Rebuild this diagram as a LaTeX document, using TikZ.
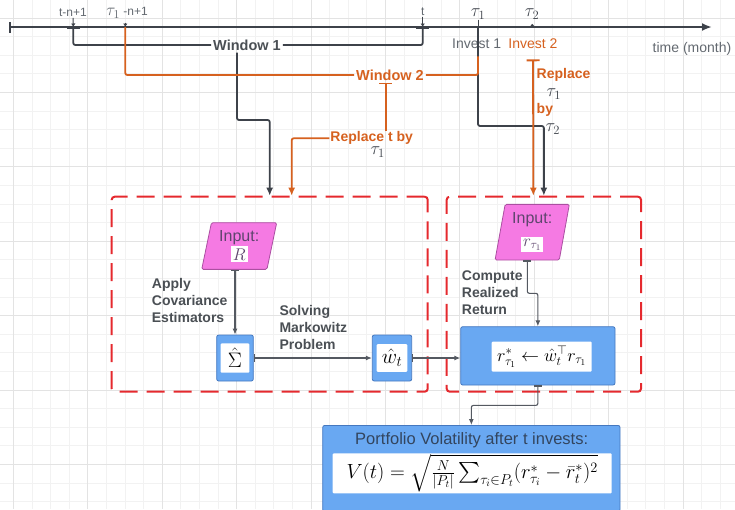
\RequirePackage{fix-cm}
\documentclass[tikz,border=0pt]{standalone}
\usepackage[no-math]{fontspec}
\setmainfont{Liberation Sans}
\usepackage{amsmath}
\usepackage{tikz}
\usetikzlibrary{positioning,arrows.meta,shapes.geometric}
\definecolor{lineclr}{rgb}{0.24, 0.26, 0.29}
\definecolor{flowclr}{rgb}{0.33, 0.35, 0.38}
\definecolor{orgclr}{rgb}{0.84, 0.38, 0.12}
\definecolor{dashclr}{rgb}{0.90, 0.16, 0.18}
\definecolor{cellclr}{rgb}{0.41, 0.66, 0.95}
\definecolor{celledge}{rgb}{0.27, 0.47, 0.75}
\definecolor{pinkclr}{rgb}{0.96, 0.48, 0.89}
\definecolor{pinkedge}{rgb}{0.67, 0.31, 0.63}
\definecolor{txtclr}{rgb}{0.29, 0.31, 0.33}
\definecolor{invclr}{rgb}{0.39, 0.41, 0.44}
\definecolor{inputtxt}{rgb}{0.37, 0.27, 0.43}
\definecolor{titleclr}{rgb}{0.20, 0.27, 0.37}
\definecolor{gridlo}{rgb}{0.95, 0.95, 0.95}
\definecolor{gridhi}{rgb}{0.89, 0.89, 0.89}
\newcommand{\wbox}[1]{{\setlength{\fboxsep}{2pt}\colorbox{white}{#1}}}
\tikzset{ %
  ,>={Latex[length=6pt,width=5pt]}
  ,gridminor/.style={draw=gridlo, line width=0.7pt}
  ,gridmajor/.style={draw=gridhi, line width=0.7pt}
  ,timeaxis/.style={draw=lineclr, line width=2.2pt, {Bar[width=11pt]}-{Latex[length=10pt,width=8pt]}}
  ,ticklbl/.style={text=invclr, inner sep=1pt, font=\fontsize{12}{14}\selectfont}
  ,taulbl/.style={text=lineclr, inner sep=1pt, font=\fontsize{18}{20}\selectfont}
  ,tickarr/.style={draw=lineclr, line width=1pt, -{Latex[length=3.5pt,width=4.5pt]}}
  ,wline/.style={draw=lineclr, line width=1.8pt, rounded corners=2pt, >={Latex[length=8pt,width=7pt]}}
  ,oline/.style={draw=orgclr, line width=1.8pt, rounded corners=2pt, >={Latex[length=8pt,width=7pt]}}
  ,winlbl/.style={text=txtclr, inner sep=2pt, font=\fontsize{14.5}{17}\selectfont\bfseries}
  ,invlbl/.style={text=invclr, inner sep=2pt, font=\fontsize{14}{17}\selectfont}
  ,olbl/.style={text=orgclr, inner sep=1pt, font=\fontsize{14}{17.5}\selectfont\bfseries}
  ,region/.style={draw=dashclr, line width=2pt, dash pattern=on 18pt off 9pt, rounded corners=3pt, inner sep=0}
  ,inp/.style={trapezium, trapezium left angle=74, trapezium right angle=106, trapezium stretches body,
     draw=pinkedge, fill=pinkclr, line width=0.8pt, rounded corners=1.5pt, minimum width=75, minimum height=46.7,
     inner sep=1pt, align=center, text=inputtxt, font=\fontsize{16}{18}\selectfont}
  ,cell/.style={draw=celledge, fill=cellclr, line width=0.8pt, rounded corners=2pt, inner sep=0}
  ,whitecell/.style={fill=white, rounded corners=1pt, inner sep=0, text=black}
  ,note/.style={text=txtclr, align=left, inner sep=0, font=\fontsize{14}{17}\selectfont\bfseries}
  ,flow/.style={draw=flowclr, line width=1.1pt, rounded corners=2pt}
}
\begin{document}
\begin{tikzpicture}[x=1pt,y=-1pt]
  \useasboundingbox (0,0) rectangle (735,509);
  \foreach \i in {0,...,40} {\draw[gridminor] ({-5.3+18.6*\i},0) -- ++(0,509);}
  \foreach \i in {0,...,28} {\draw[gridminor] (0,{-0.7+18.6*\i}) -- ++(735,0);}
  \foreach \i in {0,...,9} {\draw[gridmajor] ({13.3+74.4*\i},0) -- ++(0,509);}
  \foreach \i in {0,...,6} {\draw[gridmajor] (0,{17.9+74.4*\i}) -- ++(735,0);}

  % time line
  \coordinate (t0) at (9,27);
  \coordinate (tend) at (712,27);
  \coordinate (tA) at (73.3,27);
  \coordinate (tB) at (125.3,27);
  \coordinate (tT) at (422.7,27);
  \coordinate (tU) at (478,27);
  \coordinate (tV) at (532.3,27);
  \draw[timeaxis] (t0) -- (tend);
  \node[ticklbl] (lA) at (73,12.5) {t-n+1};
  \node[ticklbl] (lB) at (127,13) {{\fontsize{17}{17}\selectfont$\tau_1$} -n+1};
  \node[ticklbl] (lT) at (422.7,11.5) {t};
  \node[taulbl] (lU) at (478,14) {$\tau_1$};
  \node[taulbl] (lV) at (532,14) {$\tau_2$};
  \draw[tickarr] (lA) -- (tA);
  \draw[tickarr] ([yshift=-3pt]lB.south -| tB) -- (tB);
  \draw[tickarr] (lT) -- (tT);
  \draw[draw=lineclr, line width=1pt] (lU) -- (tU);
  \fill[lineclr] ([yshift=1.5pt]tV) circle (1.6);

  \node[invlbl] (i1) at (476.7,43.3) {Invest 1};
  \node[invlbl, text=orgclr] (i2) at (533,43.3) {Invest 2};
  \node[invlbl] (tm) at (692,49) {time (month)};

  % the two dashed stages
  \node[region, minimum width=316, minimum height=195] (box1) at (269.7,294.2) {};
  \node[region, minimum width=194.3, minimum height=195] (box2) at (543.85,294.2) {};

  % windows
  \node[winlbl] (w1) at (247,45) {Window 1};
  \node[winlbl, text=orgclr] (w2) at (390,75) {Window 2};
  \coordinate (j1) at (237,120);
  \coordinate (j2) at (478,126);
  \draw[wline, {Bar[width=13pt]}-] (tA) |- (w1);
  \draw[wline, {Bar[width=13pt]}-] (tT) |- (w1);
  \draw[wline, ->] (w1.south -| j1) -- (j1) -| (box1);
  \draw[wline, ->] (tU) -- (j2) -| (box2);
  \draw[oline] (tB) |- (w2);
  \draw[oline] (w2) -| ([yshift=-6pt]j2 |- i1.south);

  % replacements
  \node[olbl] (r1) at (371.7,138.3) {Replace t by};
  \node[taulbl, below=0pt of r1, xshift=6pt] (r1t) {$\tau_1$};
  \node[olbl, align=left, anchor=west] (r2) at (535.5,101.5)
    {Replace\\\hspace*{10pt}{\color{lineclr}\mdseries\fontsize{18}{17.5}\selectfont$\tau_1$}\\by\\\hspace*{9pt}{\color{lineclr}\mdseries\fontsize{18}{17.5}\selectfont$\tau_2$}};
  \path (w2.south) ++(-4.3,0) coordinate (j3);
  \path (box1.north) ++(22,0) coordinate (o1);
  \path (box2.north) ++(-10.5,0) coordinate (o2);
  \draw[oline, {Bar[width=13pt]}-] (j3) -- (j3 |- r1.north);
  \draw[oline, ->] (r1) -| (o1);
  \draw[oline, {Bar[width=13pt]}->] ([yshift=-9pt]i2.south) -- (o2);

  % left stage
  \node[inp] (in1) at (239.2,246) {Input:\\[1pt]\wbox{\fontsize{17}{17}\selectfont$R$}};
  \node[cell, minimum width=36.6, minimum height=46] (sig) at (235,358) {};
  \node[whitecell, minimum width=28.6, minimum height=29.4, font=\fontsize{21}{21}\selectfont] (sigw) at (sig) {$\hat{\Sigma}$};
  \node[cell, minimum width=39.4, minimum height=46] (wt) at (392,358) {};
  \node[whitecell, minimum width=30.6, minimum height=27.7, font=\fontsize{21}{21}\selectfont] (wtw) at (wt) {$\hat{w}_t$};
  \node[note, anchor=west] (lapp) at (151.7,300.3) {Apply\\Covariance\\Estimators};
  \node[note, anchor=west] (lsol) at (279.3,327.3) {Solving\\Markowitz\\Problem};
  \draw[flow, {Bar[width=8pt]}->] (in1.south -| sig.north) -- (sig);
  \draw[flow, {Bar[width=8pt]}->] (sig) -- (wt);

  % right stage
  \node[inp, trapezium left angle=76.6, trapezium right angle=103.4, minimum width=74.3, minimum height=55.7] (in2) at (532.2,232.2)
    {Input:\\[5pt]\wbox{\fontsize{17}{17}\selectfont$r_{\tau_1}$}};
  \node[cell, minimum width=154.3, minimum height=58.3] (rn) at (537.85,355.85) {};
  \node[whitecell, minimum width=100, minimum height=30, font=\fontsize{18}{18}\selectfont] (rnw) at (541.7,356.7)
    {$r^*_{\tau_1}\leftarrow\hat{w}_t^{\top}r_{\tau_1}$};
  \node[note, anchor=west] (lcmp) at (461.7,293.1) {Compute\\Realized\\Return};
  \coordinate (j5) at (527.3,293.3);
  \draw[flow, {Bar[width=8pt]}->] (wt.east) -- (wt.east -| rn.west);
  \draw[flow, {Bar[width=8pt]}->] (in2.south -| j5) -- (j5) -| (rn);

  % volatility
  \node[cell, minimum width=297.3, minimum height=86, anchor=north] (fin) at (471.35,425) {};
  \node[text=titleclr, inner sep=0, font=\fontsize{16.5}{18}\selectfont] (fint) at (471.7,440) {Portfolio Volatility after t invests:};
  \node[whitecell, minimum width=279, minimum height=40, font=\fontsize{20.5}{24}\selectfont] (finw) at (472.2,473.3)
    {$V(t)=\sqrt{\frac{N}{|P_t|}\sum_{\tau_i\in P_t}(r^*_{\tau_i}-\bar{r}^*_t)^2}$};
  \draw[flow, {Bar[width=8pt]}->] (rn.south) -- ++(0,20) -| (fin);
\end{tikzpicture}
\end{document}
